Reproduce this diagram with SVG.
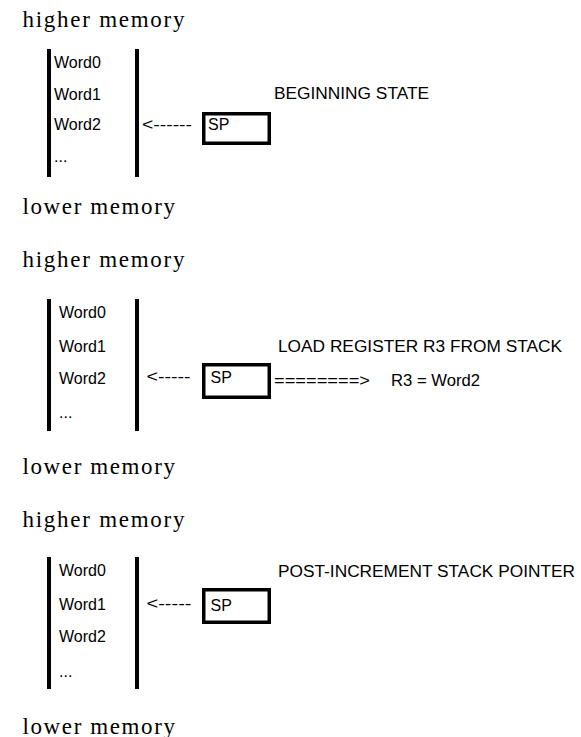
<svg xmlns="http://www.w3.org/2000/svg" width="581" height="737" viewBox="0 0 581 737">
<style>
.bg{fill:#fff}
.mem{font-family:"Liberation Serif","Times New Roman",serif;font-size:23px;fill:#000}
.t{font-family:"Liberation Sans",Arial,sans-serif;font-size:16px;fill:#000}
.bar{stroke:#000;stroke-width:4;fill:none}
.box{stroke:#000;stroke-width:3.5;fill:#fff}
</style>
<rect class="bg" x="0" y="0" width="581" height="737"/>

<!-- Section 1 -->
<g id="state1">
  <text class="mem" x="22.5" y="27" textLength="162" lengthAdjust="spacing">higher memory</text>
  <text class="mem" x="22.5" y="214" textLength="152.5" lengthAdjust="spacing">lower memory</text>
  <g id="stack1">
    <line class="bar" x1="49" y1="49" x2="49" y2="177"/>
    <line class="bar" x1="137" y1="49" x2="137" y2="177"/>
    <text class="t" x="54" y="68">Word0</text>
    <text class="t" x="54" y="99.5">Word1</text>
    <text class="t" x="54" y="130">Word2</text>
    <text class="t" x="54" y="162">...</text>
  </g>
  <g id="sp1">
    <rect class="box" x="203.75" y="113.75" width="65.5" height="29.5"/>
    <text class="t" x="208" y="130">SP</text>
  </g>
  <text id="label1" class="t" x="274" y="99" textLength="155" lengthAdjust="spacingAndGlyphs">BEGINNING STATE</text>
</g>

<!-- Section 2 -->
<g id="state2">
  <text class="mem" x="22.5" y="267" textLength="162" lengthAdjust="spacing">higher memory</text>
  <text class="mem" x="22.5" y="473.5" textLength="152.5" lengthAdjust="spacing">lower memory</text>
  <g id="stack2">
    <line class="bar" x1="49" y1="299" x2="49" y2="431"/>
    <line class="bar" x1="137" y1="299" x2="137" y2="431"/>
    <text class="t" x="59" y="318">Word0</text>
    <text class="t" x="59" y="352">Word1</text>
    <text class="t" x="59" y="384">Word2</text>
    <text class="t" x="59" y="418">...</text>
  </g>
  <g id="sp2">
    <rect class="box" x="203.75" y="364.75" width="65.5" height="32.5"/>
    <text class="t" x="210.5" y="383">SP</text>
  </g>
  <text id="label2" class="t" x="278" y="352" textLength="284" lengthAdjust="spacingAndGlyphs">LOAD REGISTER R3 FROM STACK</text>
  <text id="result2" class="t" x="391" y="386" textLength="89" lengthAdjust="spacingAndGlyphs">R3 = Word2</text>
</g>

<!-- Section 3 -->
<g id="state3">
  <text class="mem" x="22.5" y="527" textLength="162" lengthAdjust="spacing">higher memory</text>
  <text class="mem" x="22.5" y="733.5" textLength="152.5" lengthAdjust="spacing">lower memory</text>
  <g id="stack3">
    <line class="bar" x1="49" y1="557" x2="49" y2="689"/>
    <line class="bar" x1="137" y1="557" x2="137" y2="689"/>
    <text class="t" x="59" y="576">Word0</text>
    <text class="t" x="59" y="610">Word1</text>
    <text class="t" x="59" y="642">Word2</text>
    <text class="t" x="59" y="677">...</text>
  </g>
  <g id="sp3">
    <rect class="box" x="203.75" y="589.75" width="65.5" height="32.5"/>
    <text class="t" x="210.5" y="611">SP</text>
  </g>
  <text id="label3" class="t" x="278" y="577" textLength="297" lengthAdjust="spacingAndGlyphs">POST-INCREMENT STACK POINTER</text>
</g>

<!-- Connectors (drawn as text arrows) -->
<g id="connectors">
  <text class="t" x="142" y="130" textLength="50" lengthAdjust="spacingAndGlyphs">&lt;------</text>
  <text class="t" x="146.5" y="382" textLength="44" lengthAdjust="spacingAndGlyphs">&lt;-----</text>
  <text class="t" x="274" y="386" textLength="96" lengthAdjust="spacingAndGlyphs">========&gt;</text>
  <text class="t" x="146.5" y="609" textLength="45" lengthAdjust="spacingAndGlyphs">&lt;-----</text>
</g>
</svg>
